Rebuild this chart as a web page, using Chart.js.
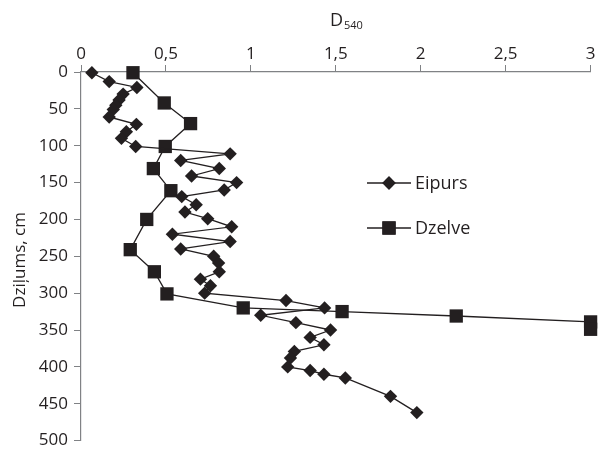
<!DOCTYPE html>
<html>
	<head>
		<meta charset="utf-8">
		<title>D540</title>
		<script src="https://cdn.jsdelivr.net/npm/chart.js@4.4.0/dist/chart.umd.min.js"></script>
		<style>
			html, body { margin: 0; padding: 0; background: #ffffff; }
			#wrap { width: 600px; height: 450px; position: relative; }
		</style>
	</head>
	<body>
		<div id="wrap"><canvas id="myChart"></canvas></div>
		<script>
			// dati nolasīti no attēla
			const eipursDepth = [1, 13, 21, 30, 38, 45, 51, 61, 71, 81, 90, 101, 111, 120, 131, 141, 150, 160, 169, 180, 190, 199, 210, 220, 230, 240, 250, 259, 271, 281, 290, 300, 310, 320, 330, 340, 350, 360, 370, 379, 388, 400, 405, 410, 415, 440, 462];
			const eipursD540 = [0.064, 0.166, 0.329, 0.248, 0.224, 0.205, 0.19, 0.166, 0.326, 0.267, 0.238, 0.322, 0.878, 0.587, 0.814, 0.651, 0.916, 0.843, 0.593, 0.678, 0.612, 0.746, 0.887, 0.538, 0.878, 0.587, 0.781, 0.81, 0.814, 0.703, 0.762, 0.728, 1.207, 1.434, 1.058, 1.265, 1.469, 1.349, 1.43, 1.256, 1.233, 1.217, 1.349, 1.43, 1.556, 1.822, 1.977];
			const dzelveDepth = [1, 42, 70, 101, 131, 161, 200, 241, 271, 301, 320, 325, 331, 339, 349];
			const dzelveD540 = [0.306, 0.49, 0.645, 0.496, 0.426, 0.529, 0.387, 0.29, 0.432, 0.506, 0.955, 1.537, 2.209, 3, 3];
			const seriesNames = ["Eipurs", "Dzelve"];
			const xTicks = [0, 0.5, 1, 1.5, 2, 2.5, 3];

			const ink = '#231f20';
			const axisGrey = '#808285';
			const fontFamily = '"Open Sans", "Noto Sans", sans-serif';

			function points (xs, ys) {
				let out = [];
				for (let i = 0; i < xs.length; i++) out.push({ x: xs[i], y: ys[i] });
				return out;
			}

			// virsraksti un leģenda
			const extras = {
				id: 'extras',
				afterDraw (chart) {
					const ctx = chart.ctx;
					ctx.save();
					ctx.fillStyle = ink;
					ctx.textBaseline = 'alphabetic';
					ctx.textAlign = 'left';
					ctx.font = '18px ' + fontFamily;
					ctx.fillText('D', 330, 26);
					ctx.font = '11px ' + fontFamily;
					ctx.fillText('540', 344, 29);

					ctx.save();
					ctx.translate(20, 260);
					ctx.rotate(-Math.PI / 2);
					ctx.textAlign = 'center';
					ctx.textBaseline = 'middle';
					ctx.font = '17px ' + fontFamily;
					ctx.fillText('Dziļums, cm', 0, 0);
					ctx.restore();

					const rows = [
						{ y: 183, style: 'rectRot', r: 6.7 },
						{ y: 228, style: 'rect', r: 9.4 }
					];
					rows.forEach((row, i) => {
						ctx.strokeStyle = ink;
						ctx.lineWidth = 1.3;
						ctx.beginPath();
						ctx.moveTo(367, row.y);
						ctx.lineTo(411, row.y);
						ctx.stroke();
						Chart.helpers.drawPoint(ctx, { pointStyle: row.style, radius: row.r, borderWidth: 0 }, 389, row.y);
						ctx.fillStyle = ink;
						ctx.fill();
						ctx.font = '18px ' + fontFamily;
						ctx.textAlign = 'left';
						ctx.textBaseline = 'middle';
						ctx.fillText(seriesNames[i], 415, row.y + 1);
					});
					ctx.restore();
				}
			};

			var chart = new Chart(document.getElementById('myChart').getContext('2d'), {
				type: 'scatter',
				plugins: [extras],
				data: {
					datasets: [{
						label: seriesNames[0],
						data: points(eipursD540, eipursDepth),
						showLine: true,
						borderColor: ink,
						borderWidth: 1.3,
						backgroundColor: ink,
						pointStyle: 'rectRot',
						pointRadius: 6.7,
						pointBorderWidth: 0,
						pointBackgroundColor: ink,
						clip: false
					},
					{
						label: seriesNames[1],
						data: points(dzelveD540, dzelveDepth),
						showLine: true,
						borderColor: ink,
						borderWidth: 1.3,
						backgroundColor: ink,
						pointStyle: 'rect',
						pointRadius: 9.4,
						pointBorderWidth: 0,
						pointBackgroundColor: ink,
						clip: false
					}]
				},
				options: {
					responsive: true,
					maintainAspectRatio: false,
					animation: false,
					layout: { padding: { left: 0, right: 3, top: 1, bottom: 7 } },
					plugins: {
						legend: { display: false },
						tooltip: { enabled: false }
					},
					scales: {
						x: {
							type: 'linear',
							position: 'top',
							min: 0,
							max: 3,
							afterBuildTicks (axis) {
								axis.ticks = xTicks.map(v => ({ value: v }));
							},
							afterFit (axis) { axis.height = 71; },
							grid: {
								drawOnChartArea: false,
								drawTicks: true,
								tickLength: 7,
								color: axisGrey,
								lineWidth: 1
							},
							border: { display: true, color: axisGrey, width: 1.2 },
							ticks: {
								color: ink,
								padding: 1,
								maxRotation: 0,
								font: { family: fontFamily, size: 17 },
								callback: v => String(v).replace('.', ',')
							}
						},
						y: {
							type: 'linear',
							reverse: true,
							min: 0,
							max: 500,
							afterFit (axis) {
								axis.width = 81;
								axis.paddingTop = 0;
								axis.paddingBottom = 0;
							},
							grid: {
								drawOnChartArea: false,
								drawTicks: true,
								tickLength: 7,
								color: axisGrey,
								lineWidth: 1
							},
							border: { display: true, color: axisGrey, width: 1.2 },
							ticks: {
								stepSize: 50,
								color: ink,
								padding: 6,
								font: { family: fontFamily, size: 17 }
							}
						}
					}
				}
			});
		</script>
	</body>
</html>
